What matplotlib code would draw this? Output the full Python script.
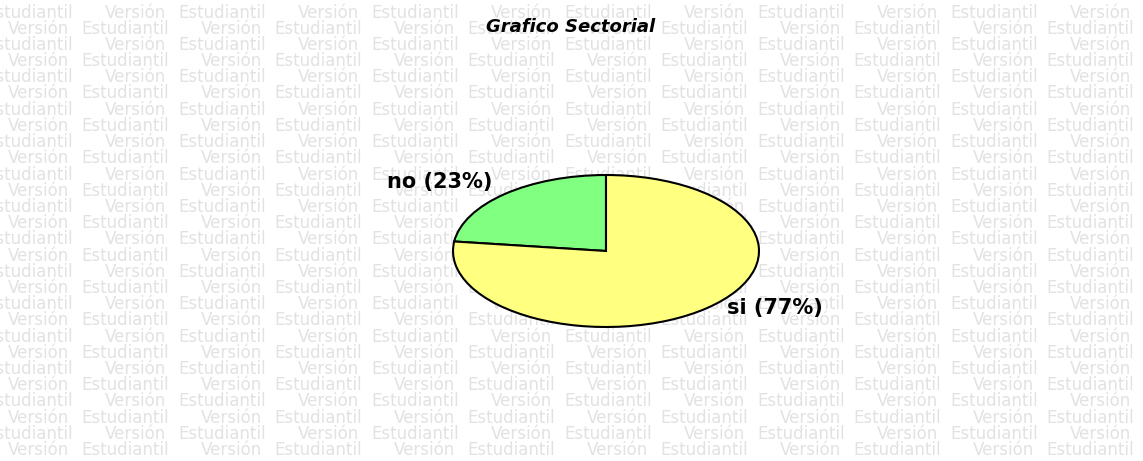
import matplotlib
matplotlib.use("Agg")
import matplotlib.pyplot as plt

# Data
categories = ["no", "si"]
values = [23, 77]
colors = ["#80FF80", "#FFFF80"]
title = "Grafico Sectorial"
watermark_words = ["Versión", "Estudiantil"]

W, H = 1143, 461
DPI = 100
fig = plt.figure(figsize=(W / DPI, H / DPI), dpi=DPI)
fig.patch.set_facecolor("white")

# Watermark background
wm_ax = fig.add_axes([0, 0, 1, 1])
wm_ax.set_xlim(0, W)
wm_ax.set_ylim(H, 0)
wm_ax.axis("off")
row_y0, row_step, n_rows = 12.5, 16.2, 28
period, word_gap = 193, 73
for r in range(n_rows):
    y = row_y0 + r * row_step
    start = -88 if r % 2 == 0 else 8
    x = start
    while x < W:
        wm_ax.text(x, y, watermark_words[0], fontsize=12, color="#e2e2e2",
                   ha="left", va="center", family="DejaVu Sans", clip_on=True)
        wm_ax.text(x + word_gap, y, watermark_words[1], fontsize=12, color="#e2e2e2",
                   ha="left", va="center", family="DejaVu Sans", clip_on=True)
        x += period

# Title
fig.text(571 / W, 1 - 27 / H, title, fontsize=13, fontweight="bold",
         fontstyle="italic", ha="center", va="center", color="black",
         family="DejaVu Sans")

# Pie (stretched ellipse)
cx, cy, rx, ry = 606, 251, 153, 76
ax = fig.add_axes([(cx - rx) / W, 1 - (cy + ry) / H, 2 * rx / W, 2 * ry / H])
labels = [f"{c} ({v}%)" for c, v in zip(categories, values)]
wedges, texts = ax.pie(values, labels=labels, colors=colors, startangle=90,
                       counterclock=True, labeldistance=1.2,
                       wedgeprops=dict(edgecolor="black", linewidth=1.5),
                       textprops=dict(fontsize=15, fontweight="bold",
                                      family="DejaVu Sans"))
for w in wedges:
    w.set_clip_on(False)
ax.set_aspect("auto")
ax.set_xlim(-1, 1)
ax.set_ylim(-1, 1)
ax.axis("off")
# fine-tune label placement relative to the ellipse
texts[0].set_position((-0.745, 0.91))
texts[1].set_position((0.79, -0.75))

fig.savefig("out.png", dpi=DPI, facecolor="white")
